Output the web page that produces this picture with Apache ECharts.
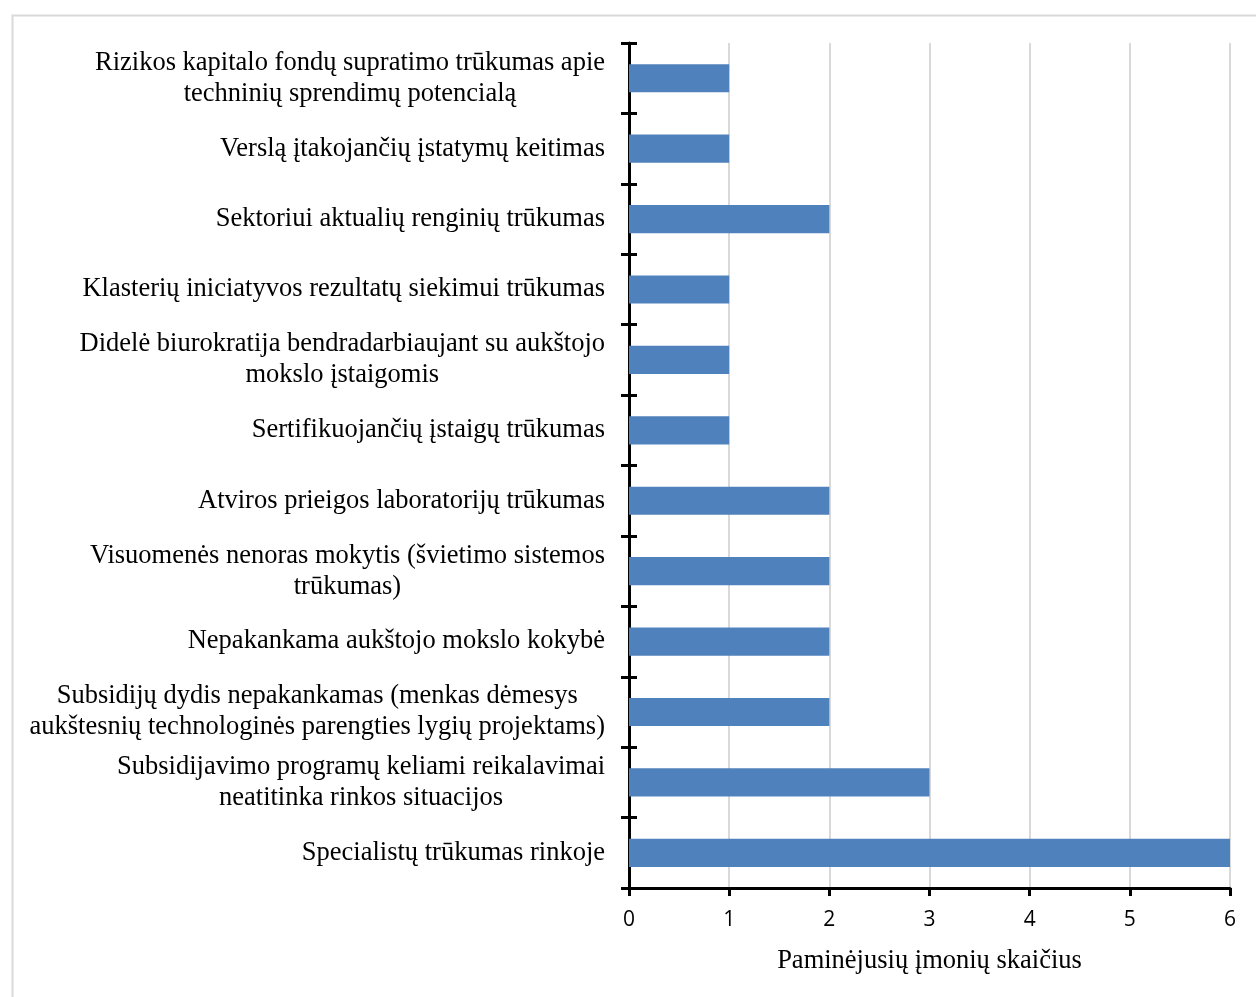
<!DOCTYPE html>
<html><head><meta charset="utf-8">
<script src="https://cdn.jsdelivr.net/npm/echarts@6/dist/echarts.min.js"></script>
<style>html,body{margin:0;padding:0;background:#fff}#c{width:1256px;height:997px}</style>
</head><body><div id="c"></div>
<script>
const categories = [
  'Rizikos kapitalo fondų supratimo trūkumas apie\ntechninių sprendimų potencialą',
  'Verslą įtakojančių įstatymų keitimas',
  'Sektoriui aktualių renginių trūkumas',
  'Klasterių iniciatyvos rezultatų siekimui trūkumas',
  'Didelė biurokratija bendradarbiaujant su aukštojo\nmokslo įstaigomis',
  'Sertifikuojančių įstaigų trūkumas',
  'Atviros prieigos laboratorijų trūkumas',
  'Visuomenės nenoras mokytis (švietimo sistemos\ntrūkumas)',
  'Nepakankama aukštojo mokslo kokybė',
  'Subsidijų dydis nepakankamas (menkas dėmesys\naukštesnių technologinės parengties lygių projektams)',
  'Subsidijavimo programų keliami reikalavimai\nneatitinka rinkos situacijos',
  'Specialistų trūkumas rinkoje'
];
const values = [1, 1, 2, 1, 1, 1, 2, 2, 2, 2, 3, 6];
const axisName = 'Paminėjusių įmonių skaičius';
const xMin = 0, xMax = 6, xInterval = 1;

const serif = '"Liberation Serif", "Times New Roman", serif';
const sans = '"Open Sans", "Liberation Sans", sans-serif';
const chart = echarts.init(document.getElementById('c'), null, {renderer: 'canvas'});
chart.setOption({
  animation: false,
  backgroundColor: '#fff',
  graphic: [{
    type: 'rect', left: 10, top: 13, z: -10,
    shape: {width: 1300, height: 1050},
    style: {fill: 'none', stroke: '#d9d9d9', lineWidth: 2}
  }],
  grid: {left: 629, right: 26, top: 43, bottom: 109, containLabel: false},
  xAxis: {
    type: 'value', min: xMin, max: xMax, interval: xInterval,
    name: axisName, nameLocation: 'middle', nameGap: 60,
    nameTextStyle: {fontFamily: serif, fontSize: 26.5, color: '#000'},
    axisLine: {show: true, lineStyle: {color: '#000', width: 3}},
    axisTick: {show: true, length: 8, lineStyle: {color: '#000', width: 3}},
    axisLabel: {fontFamily: sans, fontSize: 21, color: '#000', margin: 22},
    splitLine: {show: true, lineStyle: {color: '#d9d9d9', width: 2}}
  },
  yAxis: [{
    type: 'category', data: categories, inverse: true,
    axisLine: {show: true, lineStyle: {color: '#000', width: 3}},
    axisTick: {show: true, length: 8, lineStyle: {color: '#000', width: 3}},
    axisLabel: {
      margin: 24, align: 'right',
      formatter: function (v) { return v.split('\n').map(function (s) { return '{a|' + s + '}'; }).join('\n'); },
      rich: {a: {fontFamily: serif, fontSize: 26.5, color: '#000', align: 'center', lineHeight: 31}}
    },
    splitLine: {show: false}
  }, {
    type: 'category', data: categories, inverse: true, position: 'left',
    axisLine: {show: false},
    axisTick: {show: true, inside: true, length: 8, lineStyle: {color: '#000', width: 3}},
    axisLabel: {show: false},
    splitLine: {show: false}
  }],
  series: [{
    type: 'bar', data: values, yAxisIndex: 0, barWidth: '40%',
    itemStyle: {color: '#4F81BD'}
  }]
});
</script></body></html>
